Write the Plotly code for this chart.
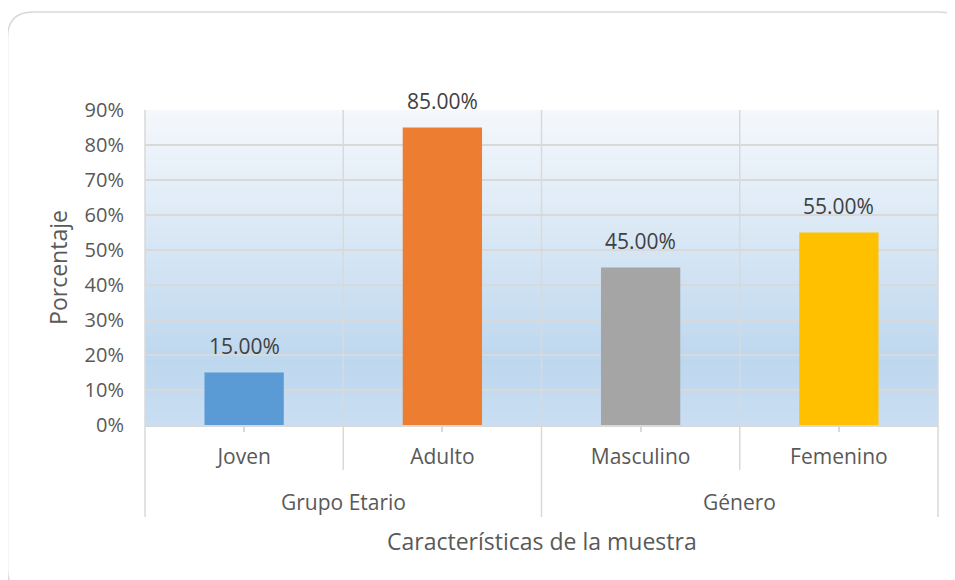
import plotly.graph_objects as go

# ── DATA ─────────────────────────────────────
categories = ["Joven", "Adulto", "Masculino", "Femenino"]
groups = ["Grupo Etario", "Género"]
values = [0.15, 0.85, 0.45, 0.55]
bar_colors = ["#5B9BD5", "#ED7D31", "#A5A5A5", "#FFC000"]

# ── THEME ────────────────────────────────────
FONT = "Open Sans"
TEXT = "#595959"
LABEL = "#404040"
GRID = "#d9d9d9"

W_PX, H_PX = 955, 580
OFF = 8                           # page offset of the figure (body margin)
L, R, T, B = 145 - OFF, 938 - OFF, 110 - OFF, 425 - OFF   # plot area, figure px


def px_x(x):
    return (x - OFF - L) / (R - L)


def px_y(y):
    return (B - (y - OFF)) / (B - T)


def mix(c1, c2, t):
    return "rgb(%d,%d,%d)" % tuple(round(a + (b - a) * t) for a, b in zip(c1, c2))


fig = go.Figure(go.Bar(
    x=categories,
    y=values,
    marker=dict(color=bar_colors, line=dict(width=0)),
    width=0.4,
    hovertemplate="%{x}: %{y:.2%}<extra></extra>",
))

# data labels above the bars
for cat, val in zip(categories, values):
    fig.add_annotation(
        x=cat, y=val, text=f"{val * 100:.2f}%", showarrow=False,
        xanchor="center", yanchor="bottom", yshift=11,
        font=dict(family=FONT, size=21, color=LABEL),
    )

shapes = []

# gradient background of the plot area (white-ish top → light blue bottom)
top_c, mid_c, bot_c = (245, 248, 252), (189, 215, 238), (202, 222, 242)
n = 63
for i in range(n):
    t = (i + 0.5) / n          # 0 at top, 1 at bottom
    if t < 0.8:
        col = mix(top_c, mid_c, t / 0.8)
    else:
        col = mix(mid_c, bot_c, (t - 0.8) / 0.2)
    shapes.append(dict(
        type="rect", xref="paper", yref="paper", layer="below",
        x0=0, x1=1, y0=1 - (i + 1) / n, y1=1 - i / n,
        fillcolor=col, line=dict(width=0),
    ))

# vertical dividers: category boundaries and group boundaries
for fx, yb in [(0, 517), (0.25, 470), (0.5, 517), (0.75, 470), (1, 517)]:
    shapes.append(dict(
        type="line", xref="paper", yref="paper",
        x0=fx, x1=fx, y0=1, y1=px_y(yb),
        line=dict(color=GRID, width=1.5),
    ))

# rounded chart border
x0, x1, y0, y1, r = 7.5, 965, 12, 595, 26
rx = r / (R - L)
ry = r / (B - T)
X0, X1, Y0, Y1 = px_x(x0), px_x(x1), px_y(y0), px_y(y1)
path = (
    f"M {X0 + rx},{Y0} L {X1 - rx},{Y0} Q {X1},{Y0} {X1},{Y0 - ry} "
    f"L {X1},{Y1 + ry} Q {X1},{Y1} {X1 - rx},{Y1} "
    f"L {X0 + rx},{Y1} Q {X0},{Y1} {X0},{Y1 + ry} "
    f"L {X0},{Y0 - ry} Q {X0},{Y0} {X0 + rx},{Y0} Z"
)
shapes.append(dict(
    type="path", xref="paper", yref="paper", path=path,
    line=dict(color="#d9d9d9", width=1.5), fillcolor="rgba(0,0,0,0)",
))

# group labels
for gx, g in zip([0.25, 0.75], groups):
    fig.add_annotation(x=gx, y=px_y(502), xref="paper", yref="paper",
                       text=g, showarrow=False,
                       xanchor="center", yanchor="middle",
                       font=dict(family=FONT, size=21, color=TEXT))
# x axis title
fig.add_annotation(x=0.5, y=px_y(541), xref="paper", yref="paper",
                   text="Características de la muestra", showarrow=False,
                   xanchor="center", yanchor="middle",
                   font=dict(family=FONT, size=23, color=TEXT))

fig.update_layout(
    width=W_PX, height=H_PX,
    margin=dict(l=L, r=W_PX - R, t=T, b=H_PX - B, autoexpand=False),
    paper_bgcolor="#ffffff",
    plot_bgcolor="rgba(0,0,0,0)",
    font=dict(family=FONT, size=20, color=TEXT),
    showlegend=False,
    shapes=shapes,
    bargap=0.6,
    xaxis=dict(
        type="category",
        showgrid=False,
        showline=True, linecolor=GRID, linewidth=1.5,
        ticks="outside", ticklen=5, tickcolor=GRID, tickwidth=1.5,
        ticklabelstandoff=7,
        tickfont=dict(family=FONT, size=21, color=TEXT),
    ),
    yaxis=dict(
        range=[0, 0.9], dtick=0.1, tickformat=".0%",
        showgrid=True, gridcolor=GRID, gridwidth=1.5,
        zeroline=False, showline=False, ticks="",
        ticklabelstandoff=20,
        tickfont=dict(family=FONT, size=20, color=TEXT),
        title=dict(text="Porcentaje", standoff=10,
                   font=dict(family=FONT, size=23, color=TEXT)),
    ),
)

fig.write_html("out.html")
